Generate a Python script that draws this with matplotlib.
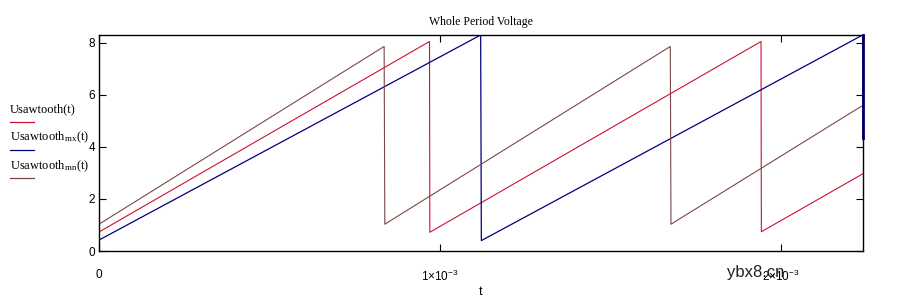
import matplotlib
matplotlib.use("Agg")
import matplotlib.pyplot as plt

# Data (breakpoints of the sawtooth traces)
t_saw = [0.0, 0.969e-3, 0.970e-3, 1.941e-3, 1.942e-3, 2.24e-3]
u_saw = [0.73, 8.05, 0.72, 8.05, 0.74, 2.97]

t_mx = [0.0, 1.119e-3, 1.121e-3, 2.239e-3, 2.24e-3]
u_mx = [0.42, 8.30, 0.40, 8.30, 4.35]

t_mn = [0.0, 0.836e-3, 0.838e-3, 1.675e-3, 1.677e-3, 2.24e-3]
u_mn = [1.03, 7.86, 1.03, 7.86, 1.03, 5.60]

y_ticks = [0, 2, 4, 6, 8]
y_labels = ["0", "2", "4", "6", "8"]
x_ticks = [0.0, 1e-3, 2e-3]
x_labels = ["0", r"$1{\times}10^{\mathregular{-3}}$", r"$2{\times}10^{\mathregular{-3}}$"]

legend_labels = [r"Usawtooth(t)", r"Usawtooth$_{\mathregular{mx}}$(t)", r"Usawtooth$_{\mathregular{mn}}$(t)"]
colors = ["#cc1133", "#000080", "#7a4848"]

plt.rcParams["font.family"] = ["Liberation Serif", "DejaVu Serif"]
plt.rcParams["mathtext.fontset"] = "custom"
plt.rcParams["mathtext.rm"] = "Liberation Sans"
plt.rcParams["mathtext.it"] = "Liberation Sans"

fig = plt.figure(figsize=(9.02, 3.03), dpi=100)
ax = fig.add_axes([99/902, 52/303, (863-99)/902, (251-35)/303])

ax.plot(t_saw, u_saw, color=colors[0], lw=0.8)
ax.plot(t_mx, u_mx, color=colors[1], lw=0.9)
ax.plot(t_mn, u_mn, color=colors[2], lw=0.8)
ax.plot([2.24e-3, 2.24e-3], [8.3, 4.35], color=colors[1], lw=2.0, clip_on=False)

ax.set_xlim(0, 2.24e-3)
ax.set_ylim(0, 8.3)
ax.set_xticks(x_ticks)
ax.set_xticklabels(x_labels, fontsize=8.5, family="Liberation Sans")
ax.set_yticks(y_ticks)
ax.set_yticklabels(y_labels, fontsize=8.5, family="Liberation Sans")
ax.tick_params(direction="in", length=5, width=0.8, top=True, right=True)
ax.tick_params(axis="x", pad=13)
ax.tick_params(axis="y", pad=3)
for s in ax.spines.values():
    s.set_linewidth(1.0)
ax.set_title("Whole Period Voltage", fontsize=8.5, pad=7)
ax.set_xlabel("t", fontsize=9, labelpad=1, family="Liberation Sans")

# Legend drawn at left, outside the axes
ys_text = [109, 137, 166]
ys_line = [122, 150, 178]
for lab, c, yt, yl in zip(legend_labels, colors, ys_text, ys_line):
    fig.text(10/902, 1 - yt/303, lab, fontsize=9, va="center", ha="left",
             math_fontfamily="stix")
    fig.add_artist(plt.Line2D([10/902, 34/902], [1 - yl/303, 1 - yl/303], color=c, lw=0.9))

fig.text(756/902, 1 - 273/303, "ybx8.cn", fontsize=12, family="Liberation Sans",
         color="#222222", ha="center", va="center")

fig.savefig("out.png", dpi=100)
